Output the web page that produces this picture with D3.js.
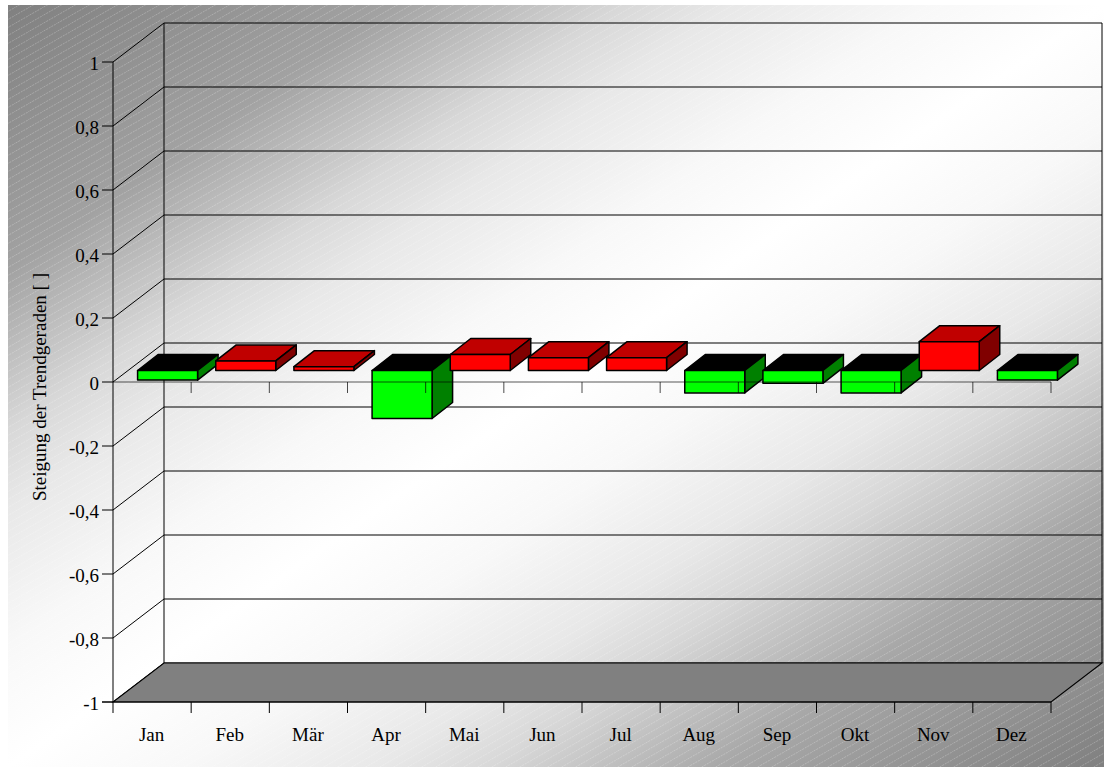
<!DOCTYPE html>
<html>
<head>
<meta charset="utf-8">
<script src="https://cdn.jsdelivr.net/npm/d3@7"></script>
<style>
  html, body { margin: 0; padding: 0; background: #fff; }
  svg { display: block; }
  text { font-family: "Liberation Serif", serif; fill: #000; }
</style>
</head>
<body>
<svg id="chart" width="1104" height="767"></svg>
<script>
// Monthly slope of the trend line
const months = ["Jan", "Feb", "Mär", "Apr", "Mai", "Jun", "Jul", "Aug", "Sep", "Okt", "Nov", "Dez"];
const slopes = [-0.03, 0.03, 0.012, -0.15, 0.05, 0.04, 0.04, -0.07, -0.04, -0.07, 0.09, -0.03];
const yTicks = [1, 0.8, 0.6, 0.4, 0.2, 0, -0.2, -0.4, -0.6, -0.8, -1];
const yTitle = "Steigung der Trendgeraden [ ]";

const svg = d3.select("#chart");
const defs = svg.append("defs");

// Panel background: dark corners on the main diagonal, white through the middle
const panelStops = [[0, "#808080"], [0.175, "#a2a2a2"], [0.28, "#d8d8d8"], [0.33, "#e8e8e8"], [0.42, "#f8f8f8"], [0.5, "#ffffff"],
  [0.58, "#f8f8f8"], [0.67, "#e8e8e8"], [0.72, "#d8d8d8"], [0.825, "#a8a8a8"], [1, "#808080"]];
const grad = defs.append("linearGradient").attr("id", "panelFill")
  .attr("x1", 0).attr("y1", 0).attr("x2", 1).attr("y2", 1);
panelStops.forEach(([o, c]) => grad.append("stop").attr("offset", o).attr("stop-color", c));

// Fine dotted diagonal hatch laid over the panel
const hatch = defs.append("pattern").attr("id", "panelHatch")
  .attr("patternUnits", "userSpaceOnUse").attr("width", 14).attr("height", 8);
hatch.append("line").attr("x1", -14).attr("y1", 16).attr("x2", 28).attr("y2", -8)
  .attr("stroke", "#fff").attr("stroke-opacity", 0.3).attr("stroke-width", 0.8)
  .attr("stroke-dasharray", "2 1");

svg.append("rect").attr("x", 8).attr("y", 5).attr("width", 1096).attr("height", 762).attr("fill", "url(#panelFill)");
svg.append("rect").attr("x", 8).attr("y", 5).attr("width", 1096).attr("height", 762).attr("fill", "url(#panelHatch)");

// Scales and the oblique depth of the box
const x = d3.scaleBand().domain(months).range([113, 1051]);
const y = d3.scaleLinear().domain([-1, 1]).range([702, 62]);
const depth = { dx: 51, dy: -39 };
const barDepth = { dx: 20.5, dy: -16 };
const barOffset = { dx: 15.5, dy: -11.5 };
const barWidth = 60;
const tickLen = 11;
const pts = a => a.map(p => p.join(",")).join(" ");

const frame = svg.append("g").attr("fill", "none").attr("stroke", "#000");

// Back wall gridlines and their run along the left wall
yTicks.forEach(t => {
  const yy = y(t);
  frame.append("line").attr("x1", 113 + depth.dx).attr("x2", 1051 + depth.dx)
    .attr("y1", yy + depth.dy).attr("y2", yy + depth.dy)
    .attr("stroke-width", 1.2);
  frame.append("line").attr("x1", 113).attr("y1", yy)
    .attr("x2", 113 + depth.dx).attr("y2", yy + depth.dy).attr("stroke-width", 1);
});

// Vertical edges of the box
frame.append("line").attr("x1", 164).attr("x2", 164).attr("y1", y(1) + depth.dy).attr("y2", y(-1) + depth.dy);
frame.append("line").attr("x1", 1102).attr("x2", 1102).attr("y1", y(1) + depth.dy).attr("y2", y(-1) + depth.dy);
frame.append("line").attr("x1", 113).attr("x2", 113).attr("y1", y(1)).attr("y2", y(-1) + tickLen);

// Floor
svg.append("polygon")
  .attr("points", pts([[113, y(-1)], [1051, y(-1)], [1051 + depth.dx, y(-1) + depth.dy], [113 + depth.dx, y(-1) + depth.dy]]))
  .attr("fill", "#808080").attr("stroke", "#000").attr("stroke-width", 1.1);

// Bars, left to right so that each one overlaps its neighbour's side face
const bars = svg.append("g").attr("stroke", "#000").attr("stroke-width", 1.5).attr("stroke-linejoin", "round");
months.forEach((m, i) => {
  const v = slopes[i];
  const x0 = x(m) + (x.bandwidth() - barWidth) / 2 + barOffset.dx;
  const x1 = x0 + barWidth;
  const base = y(0) + barOffset.dy;
  const end = y(v) + barOffset.dy;
  const top = Math.min(base, end), bottom = Math.max(base, end);
  const up = v >= 0;
  const g = bars.append("g");
  g.append("polygon")
    .attr("points", pts([[x0, top], [x1, top], [x1 + barDepth.dx, top + barDepth.dy], [x0 + barDepth.dx, top + barDepth.dy]]))
    .attr("fill", up ? "#c00000" : "#000000");
  g.append("polygon")
    .attr("points", pts([[x1, top], [x1 + barDepth.dx, top + barDepth.dy], [x1 + barDepth.dx, bottom + barDepth.dy], [x1, bottom]]))
    .attr("fill", up ? "#800000" : "#008000");
  g.append("rect").attr("x", x0).attr("y", top).attr("width", barWidth).attr("height", bottom - top)
    .attr("fill", up ? "#ff0000" : "#00ff00");
});

// Zero line and lower axis with their ticks, drawn across the bars
const axes = svg.append("g").attr("stroke", "#000").attr("fill", "none");
axes.append("line").attr("x1", 113).attr("x2", 1051).attr("y1", y(0)).attr("y2", y(0))
  .attr("stroke-opacity", 0.65).attr("stroke-width", 1.2);
axes.append("line").attr("x1", 113 - tickLen).attr("x2", 1051).attr("y1", y(-1)).attr("y2", y(-1)).attr("stroke-width", 1.1);

const edges = months.map(m => x(m)).concat([1051]);
edges.forEach((ex, i) => {
  if (i > 0) axes.append("line").attr("x1", ex).attr("x2", ex).attr("y1", y(-1)).attr("y2", y(-1) + tickLen);
  if (i > 0) axes.append("line").attr("x1", ex).attr("x2", ex).attr("y1", y(0)).attr("y2", y(0) + tickLen).attr("stroke-opacity", 0.7);
});
yTicks.forEach(t => {
  axes.append("line").attr("x1", 113 - tickLen).attr("x2", 113).attr("y1", y(t)).attr("y2", y(t));
});

// Value labels use a decimal comma
const yFormat = t => String(t).replace(".", ",");
svg.append("g").selectAll("text").data(yTicks).join("text")
  .attr("x", 99).attr("y", d => y(d) + 7.5)
  .attr("text-anchor", "end").attr("font-size", 19)
  .text(yFormat);

svg.append("g").selectAll("text").data(months).join("text")
  .attr("x", d => x(d) + x.bandwidth() / 2 - 0.5).attr("y", 740.5)
  .attr("text-anchor", "middle").attr("font-size", 19)
  .text(d => d);

svg.append("text")
  .attr("transform", "translate(46,387) rotate(-90)")
  .attr("text-anchor", "middle").attr("font-size", 19)
  .text(yTitle);
</script>
</body>
</html>
